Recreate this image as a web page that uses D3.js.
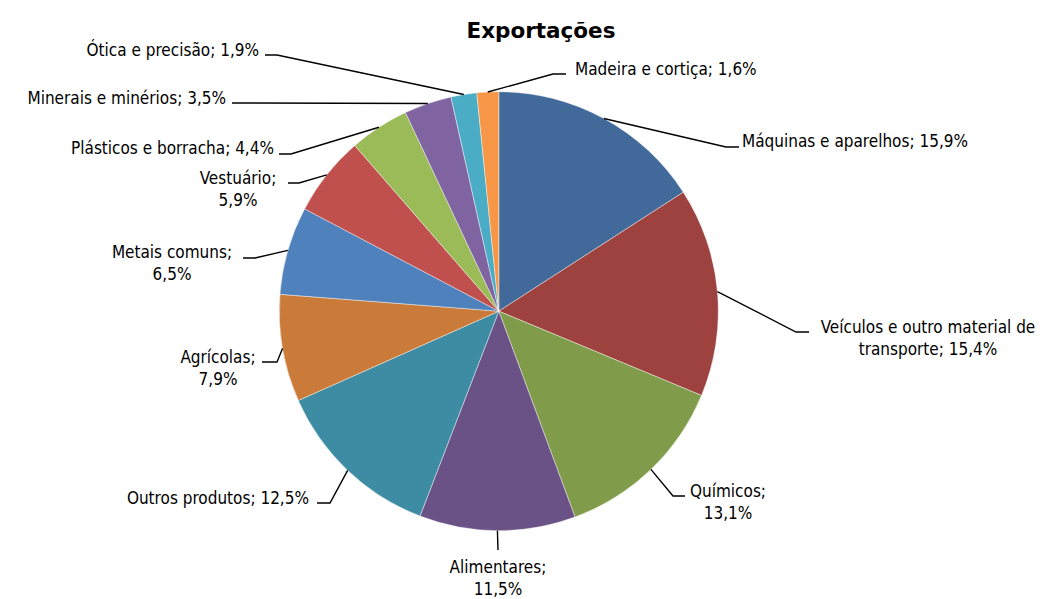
<!DOCTYPE html>
<html><head><meta charset="utf-8">
<script src="https://cdn.jsdelivr.net/npm/d3@7"></script>
<style>
html,body{margin:0;padding:0;background:#fff;}
text{font-family:"DejaVu Sans Condensed","DejaVu Sans",sans-serif;fill:#000;}
</style></head>
<body>
<svg id="chart" width="1046" height="599"></svg>
<script>
const title = "Exportações";
const categories = ["Máquinas e aparelhos","Veículos e outro material de transporte","Químicos","Alimentares","Outros produtos","Agrícolas","Metais comuns","Vestuário","Plásticos e borracha","Minerais e minérios","Ótica e precisão","Madeira e cortiça"];
const values = [15.9,15.4,13.1,11.5,12.5,7.9,6.5,5.9,4.4,3.5,1.9,1.6];
const valueLabels = ["15,9%","15,4%","13,1%","11,5%","12,5%","7,9%","6,5%","5,9%","4,4%","3,5%","1,9%","1,6%"];
const colors = ["#416a9b","#9e4240","#809b49","#6a5186","#3e8ca3","#cb7b39","#4f81bd","#c0504d","#9bbb59","#8064a2","#4bacc6","#f79646"];

// label layout: text lines, first-line centre, elbow point, horizontal end
const labelLayout = [
  {lines:["Máquinas e aparelhos; 15,9%"], x:742, y:141, anchor:"start", elbow:[726,147], end:[739,147]},
  {lines:["Veículos e outro material de","transporte; 15,4%"], x:928, y:327, anchor:"middle", elbow:[796,332], end:[809,332]},
  {lines:["Químicos;","13,1%"], x:728, y:491, anchor:"middle", elbow:[673,496], end:[685,496]},
  {lines:["Alimentares;","11,5%"], x:498, y:567, anchor:"middle", elbow:[498,550], end:[498,550]},
  {lines:["Outros produtos; 12,5%"], x:309, y:498, anchor:"end", elbow:[330,503], end:[317,503]},
  {lines:["Agrícolas;","7,9%"], x:218, y:357, anchor:"middle", elbow:[277,362], end:[262,362]},
  {lines:["Metais comuns;","6,5%"], x:172, y:252, anchor:"middle", elbow:[255,258], end:[243,258]},
  {lines:["Vestuário;","5,9%"], x:238, y:178, anchor:"middle", elbow:[299,183], end:[288,183]},
  {lines:["Plásticos e borracha; 4,4%"], x:274, y:148, anchor:"end", elbow:[291,154], end:[279,154]},
  {lines:["Minerais e minérios; 3,5%"], x:226, y:98, anchor:"end", elbow:[240,103], end:[232,103]},
  {lines:["Ótica e precisão; 1,9%"], x:259, y:50, anchor:"end", elbow:[277,55], end:[265,55]},
  {lines:["Madeira e cortiça; 1,6%"], x:575, y:69, anchor:"start", elbow:[553,74], end:[566,74]}
];

const cx = 498.8, cy = 311.2, R = 219.5;
const svg = d3.select("#chart");

svg.append("text").attr("x",541).attr("y",30).attr("dy","0.35em").attr("text-anchor","middle")
  .style("font-family","'DejaVu Sans',sans-serif")
  .style("font-weight","bold").style("font-size","21.5px").text(title);

const data = categories.map((c,i)=>({cat:c, v:values[i], lab:valueLabels[i], i}));
const pie = d3.pie().value(d=>d.v).sort(null);
const arcs = pie(data);
const arc = d3.arc().innerRadius(0).outerRadius(R);

const g = svg.append("g").attr("transform",`translate(${cx},${cy})`);
g.selectAll("path").data(arcs).join("path")
  .attr("d",arc).attr("fill",d=>colors[d.data.i])
  .attr("stroke","#ffffff").attr("stroke-width",0.6).attr("stroke-opacity",0.7);

const lg = svg.append("g");
arcs.forEach((a,i)=>{
  const L = labelLayout[i];
  const mid = (a.startAngle+a.endAngle)/2;
  const p0 = [cx + R*Math.sin(mid), cy - R*Math.cos(mid)];
  lg.append("polyline")
    .attr("points",[p0,L.elbow,L.end].map(p=>p.join(",")).join(" "))
    .attr("fill","none").attr("stroke","#000").attr("stroke-width",1.4);
  const lh = 22;
  const t = lg.append("text").attr("text-anchor",L.anchor).style("font-size","17px");
  L.lines.forEach((ln,k)=>{
    t.append("tspan").attr("x",L.x).attr("y", L.y + k*lh).attr("dy","0.35em").text(ln);
  });
});
</script>
</body></html>
